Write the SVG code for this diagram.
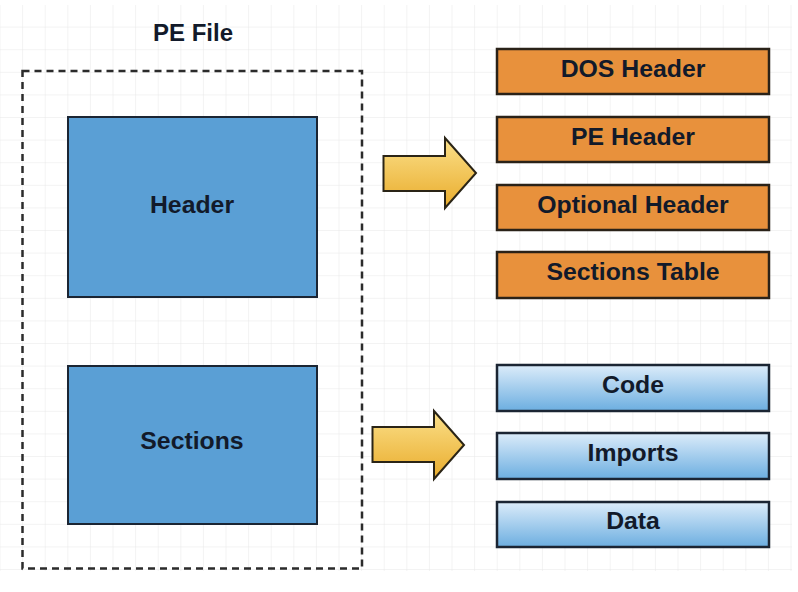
<svg xmlns="http://www.w3.org/2000/svg" width="798" height="592" viewBox="0 0 798 592">
<defs>
<pattern id="grid" x="0.5" y="5" width="22.6" height="22.6" patternUnits="userSpaceOnUse">
<path d="M22.6 0 V22.6 M0 22.6 H22.6" fill="none" stroke="#e8e8e8" stroke-width="1"/>
</pattern>
<linearGradient id="lb" x1="0" y1="0" x2="0" y2="1">
<stop offset="0" stop-color="#dcecfa"/>
<stop offset="1" stop-color="#6caee0"/>
</linearGradient>
<linearGradient id="yl" x1="0" y1="0" x2="0" y2="1">
<stop offset="0" stop-color="#fbe08a"/>
<stop offset="1" stop-color="#e9ac2c"/>
</linearGradient>
<style>
.t{font-family:"Liberation Sans",Arial,sans-serif;font-weight:bold;font-size:24.8px;fill:#121a2a;text-anchor:middle}
.ttl{font-size:24px}
.big{fill:#5a9fd5;stroke:#1b2533;stroke-width:2}
.or{fill:#e8913c;stroke:#2a2218;stroke-width:2.5}
.lb{fill:url(#lb);stroke:#1b2533;stroke-width:2.5}
.ar{fill:url(#yl);stroke:#2a2416;stroke-width:2;stroke-linejoin:miter}
</style>
</defs>
<rect x="0" y="0" width="798" height="592" fill="#ffffff"/>
<rect x="0" y="5" width="792" height="566" fill="url(#grid)"/>
<g id="pe-file">
<rect x="22.5" y="71" width="339.5" height="497.5" fill="none" stroke="#2b2b2b" stroke-width="2.5" stroke-dasharray="7,5"/>
<text class="t ttl" x="193" y="41">PE File</text>
</g>
<g id="header">
<rect class="big" x="68" y="117" width="249" height="180"/>
<text class="t" x="192" y="213">Header</text>
</g>
<g id="sections">
<rect class="big" x="68" y="366" width="249" height="158"/>
<text class="t" x="192" y="449">Sections</text>
</g>
<g id="dos-header">
<rect class="or" x="497" y="49" width="272" height="45"/>
<text class="t" x="633" y="77">DOS Header</text>
</g>
<g id="pe-header">
<rect class="or" x="497" y="117" width="272" height="45"/>
<text class="t" x="633" y="145">PE Header</text>
</g>
<g id="optional-header">
<rect class="or" x="497" y="185" width="272" height="45"/>
<text class="t" x="633" y="213">Optional Header</text>
</g>
<g id="sections-table">
<rect class="or" x="497" y="252" width="272" height="46"/>
<text class="t" x="633" y="280">Sections Table</text>
</g>
<g id="code">
<rect class="lb" x="497" y="365" width="272" height="46"/>
<text class="t" x="633" y="393">Code</text>
</g>
<g id="imports">
<rect class="lb" x="497" y="433" width="272" height="46"/>
<text class="t" x="633" y="461">Imports</text>
</g>
<g id="data">
<rect class="lb" x="497" y="502" width="272" height="45"/>
<text class="t" x="633" y="529">Data</text>
</g>
<g id="connectors">
<path class="ar" d="M383.5 156 H445 V138 L476 173 L445 208 V191 H383.5 Z"/>
<path class="ar" d="M372.5 427 H434 V411 L464 445 L434 479 V462 H372.5 Z"/>
</g>
</svg>
